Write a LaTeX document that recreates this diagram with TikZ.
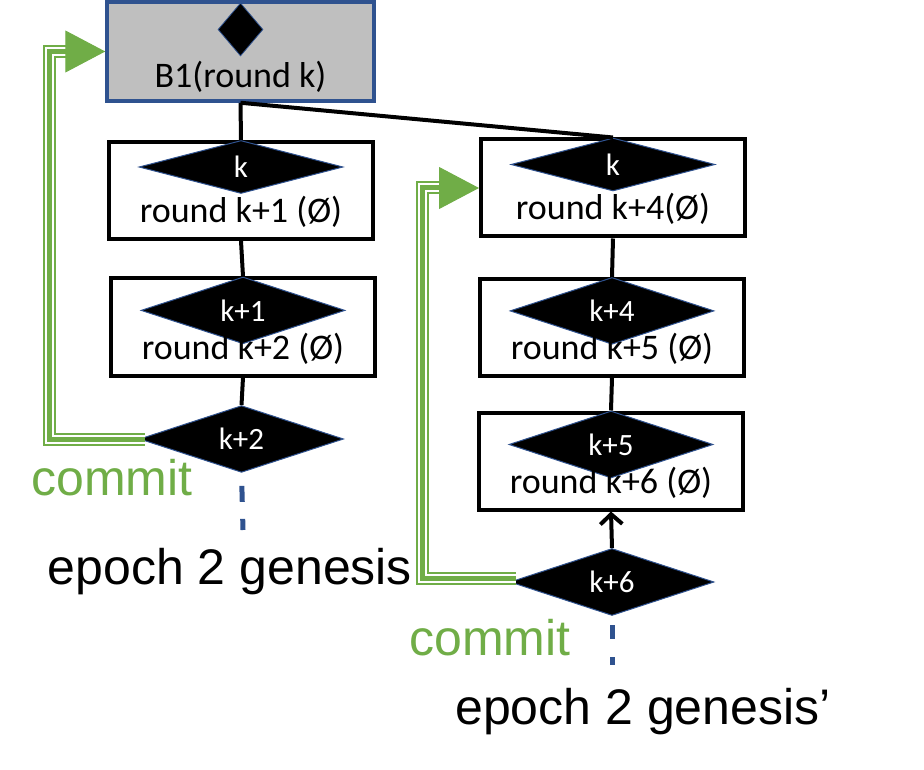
\documentclass[tikz,border=0pt]{standalone}
\usepackage{fontspec}
\setmainfont{Carlito}
\newfontfamily\arialfont{Liberation Sans}
\usetikzlibrary{shapes.geometric,arrows.meta}
\definecolor{commitGreen}{RGB}{112,173,71}
\definecolor{borderBlue}{RGB}{47,82,143}
\definecolor{blockGray}{RGB}{191,191,191}

\begin{document}
\begin{tikzpicture}[x=1pt, y=-1pt,
    block/.style={draw=black, line width=4pt, minimum width=264pt, minimum height=97pt, inner sep=0pt},
    vote/.style={diamond, draw=borderBlue, fill=black, line width=1pt, text=white, inner sep=0pt,
      minimum width=204pt, minimum height=53pt, font=\fontsize{31}{33}\selectfont},
    roundtext/.style={anchor=base, font=\fontsize{36}{40}\selectfont},
    link/.style={draw=black, line width=4pt},
    genesis/.style={draw=borderBlue, line width=5pt},
    commitline/.style={draw=commitGreen, line width=5pt, line join=miter,
      preaction={draw=commitGreen, line width=13pt, line join=miter},
      preaction={draw=white, line width=9pt, line join=miter}},
    commithead/.style={draw=commitGreen, line width=1pt, -{Triangle[length=40pt, width=42pt]}},
    commitlabel/.style={text=commitGreen, font=\arialfont\fontsize{50}{54}\selectfont},
    epochlabel/.style={font=\arialfont\fontsize{50}{54}\selectfont}]
  \useasboundingbox (0,0) rectangle (924,770);

  % genesis block of epoch 1
  \node[draw=borderBlue, fill=blockGray, line width=3.5pt, minimum width=267pt, minimum height=99pt] (b1) at (240.5,51.5) {};
  \node[diamond, fill=black, draw=borderBlue, line width=0.8pt, inner sep=0pt, minimum width=45pt, minimum height=53pt] (qc0) at (240.5,29.5) {};
  \node[roundtext] (b1txt) at (240.5,88) {B1(round k)};

  % left branch
  \node[block] (l1) at (241,190.5) {};
  \node[vote, anchor=north] (ql1) at (l1.north) {k};
  \node[roundtext] at ([yshift=-32pt]l1.center) {round k+1 (Ø)};
  \node[block] (l2) at (243,327) {};
  \node[vote, anchor=north] (ql2) at (l2.north) {k+1};
  \node[roundtext] at ([yshift=-32pt]l2.center) {round k+2 (Ø)};
  \node[vote] (k2) at (241.5,439) {k+2};

  % right branch
  \node[block] (r1) at (613,188) {};
  \node[vote, anchor=north] (qr1) at (r1.north) {k};
  \node[roundtext] at ([yshift=-32pt]r1.center) {round k+4(Ø)};
  \node[block] (r2) at (612,327.5) {};
  \node[vote, anchor=north] (qr2) at (r2.north) {k+4};
  \node[roundtext] at ([yshift=-32pt]r2.center) {round k+5 (Ø)};
  \node[block] (r3) at (611,461) {};
  \node[vote, anchor=north] (qr3) at (r3.north) {k+5};
  \node[roundtext] at ([yshift=-32pt]r3.center) {round k+6 (Ø)};
  \node[vote] (k6) at (612,582) {k+6};

  % chain links
  \draw[link] (b1.south) -- (l1.north);
  \draw[link] (b1.south) -- (r1.north);
  \draw[link] (l1.south) -- (l2.north);
  \draw[link] (l2.south) -- (k2.north);
  \draw[link] (r1.south) -- (r2.north);
  \draw[link] (r2.south) -- (r3.north);
  \draw[link, -{Straight Barb[length=10pt, width=22pt]}] (k6.north) -- (r3.south);

  % commits
  \coordinate (cl) at (49,51.5);
  \coordinate (cr) at (422,188);
  \draw[commitline] ([xshift=6pt]k2.west) -| (cl) -- ([xshift=-30pt]b1.west);
  \draw[commithead] ([xshift=-40pt]b1.west) -- (b1.west);
  \draw[commitline] ([xshift=6pt,yshift=4pt]k6.west) -| (cr) -- ([xshift=-30pt]r1.west);
  \draw[commithead] ([xshift=-40pt]r1.west) -- (r1.west);
  \node[commitlabel] (cmtl) at (112,478) {commit};
  \node[commitlabel] (cmtr) at (490,638) {commit};

  % epoch 2 genesis
  \coordinate (gl) at (243,530);
  \coordinate (gr) at (612,665);
  \draw[genesis, dash pattern=on 0pt off 13pt on 16pt off 17pt on 18pt] (k2.south) -- (gl);
  \draw[genesis, dash pattern=on 0pt off 9pt on 14pt off 18pt on 15pt] (k6.south) -- (gr);
  \node[epochlabel] (gentl) at (230,572) {epoch 2 genesis};
  \node[epochlabel] (gentr) at (643,712) {epoch 2 genesis’};
\end{tikzpicture}
\end{document}
